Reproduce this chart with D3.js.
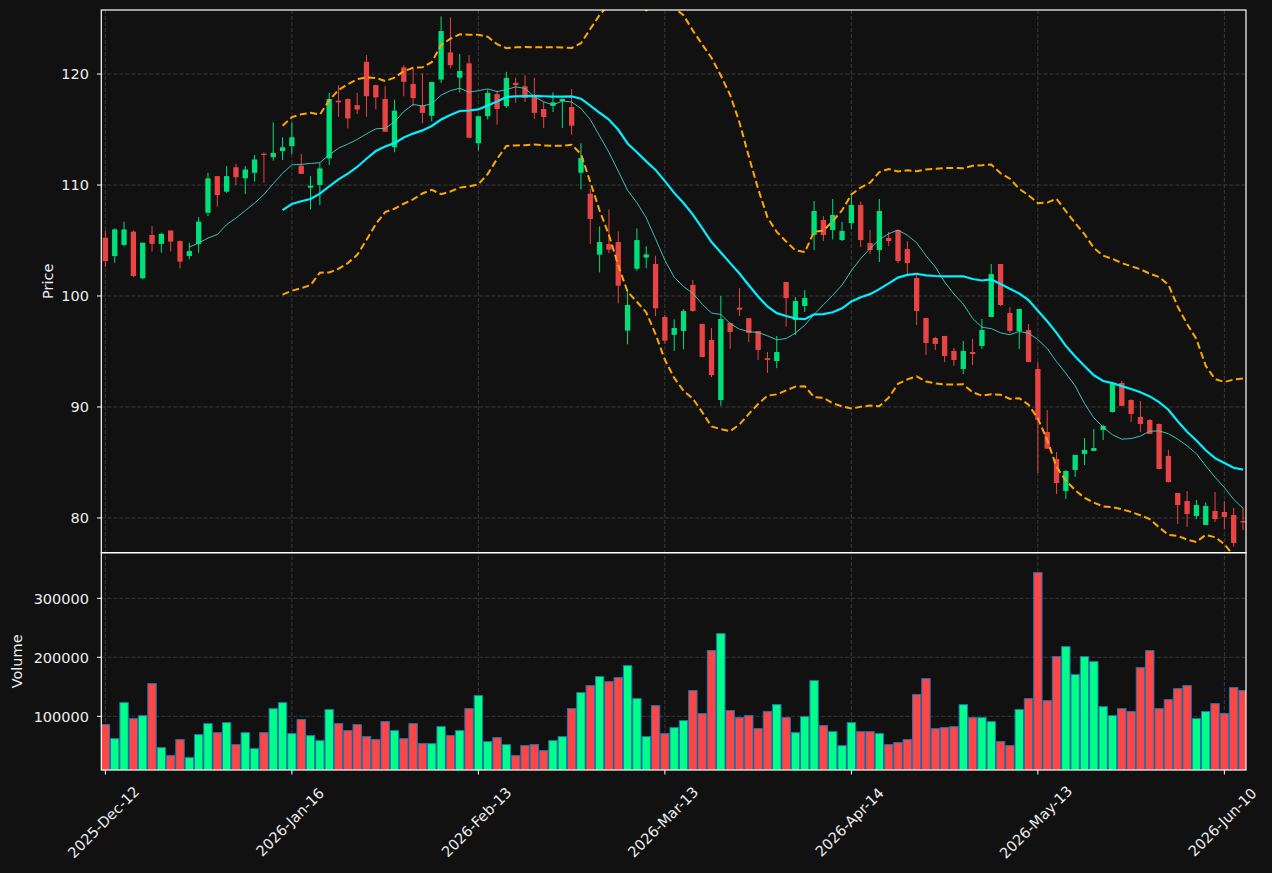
<!DOCTYPE html>
<html>
<head>
<meta charset="utf-8">
<script src="https://cdn.jsdelivr.net/npm/d3@7"></script>
<style>
  body { margin: 0; background: #111111; }
  text { font-family: "DejaVu Sans", sans-serif; }
</style>
</head>
<body>
<svg id="chart" width="1272" height="873"></svg>
<script>
// ---- data (one entry per trading session) ----
const opens = [105.25,103.6,104.6,105.8,101.6,105.5,104.7,105.9,104.95,103.6,104.7,107.5,110.8,109.4,111.6,110.6,111.1,112.82,112.5,113.06,
  113.5,111.74,109.76,110.0,112.4,117.6,117.75,117.2,121.1,119.0,117.75,113.4,120.6,119.1,117.14,116.24,119.5,121.95,119.67,120.96,
  113.76,116.2,118.2,117.1,119.2,118.9,118.0,116.85,117.14,117.57,117.03,111.11,109.22,103.72,104.68,104.86,96.88,102.46,103.46,102.88,
  98.11,96.5,96.85,101.0,97.48,96.04,90.63,97.57,98.95,98.0,96.85,94.4,94.14,101.26,97.84,99.1,105.5,106.85,105.95,105.04,
  106.58,108.2,104.77,104.14,105.23,105.95,104.23,101.62,98.02,96.22,96.4,95.05,93.42,94.95,95.5,98.11,102.88,98.47,96.85,96.94,
  93.42,87.75,85.32,82.43,84.32,85.77,86.04,87.93,89.55,92.16,90.63,89.1,88.83,88.47,85.59,82.25,81.53,80.18,79.37,80.63,
  80.54,80.27,79.72];
const highs = [105.9,106.1,106.7,105.9,104.8,106.3,105.7,105.9,105.0,104.8,107.1,111.1,110.8,111.7,111.9,111.7,112.7,112.95,115.65,114.3,
  115.65,112.8,110.8,112.0,118.3,119.0,117.8,118.3,121.7,119.05,118.9,117.7,120.8,120.5,120.1,119.3,125.2,125.1,121.8,121.7,
  116.2,118.6,118.5,120.2,119.67,119.9,119.67,117.48,118.35,117.8,118.65,113.76,109.64,106.28,107.8,105.83,100.6,106.1,104.48,103.63,
  98.3,97.9,98.8,101.44,97.5,97.12,100.0,97.6,100.72,98.0,96.85,94.95,96.4,101.26,99.9,100.54,108.56,107.2,108.74,106.67,
  109.2,108.5,105.95,108.74,105.77,105.95,104.95,101.9,98.02,96.3,96.4,95.32,95.95,96.13,97.93,102.88,102.88,99.0,98.83,97.48,
  94.05,89.73,85.95,84.3,85.7,87.2,88.0,88.4,92.25,92.34,90.7,90.54,88.9,88.5,86.13,82.25,82.43,81.62,81.4,82.34,
  81.53,80.9,80.9];
const lows = [102.6,103.0,104.5,101.7,101.5,104.0,103.9,104.0,102.5,103.3,103.9,107.2,108.05,109.3,110.0,109.2,110.3,110.2,112.2,112.25,
  112.77,111.0,107.8,108.2,111.8,116.15,115.1,116.4,116.15,116.8,114.8,112.95,118.0,117.1,115.56,115.74,119.2,120.5,118.35,114.2,
  113.1,115.9,115.44,116.94,117.4,117.48,115.95,115.14,116.58,115.14,114.53,109.6,104.7,102.13,103.85,99.34,95.65,102.28,102.5,98.2,
  95.7,95.05,95.2,98.6,94.5,92.7,90.1,95.23,98.2,95.86,94.23,93.06,93.5,97.24,96.49,98.56,104.14,104.95,105.1,104.95,
  106.04,104.4,103.78,103.06,104.5,102.97,101.98,97.39,94.68,95.14,94.05,93.7,92.97,93.78,95.23,98.1,99.1,96.67,95.23,94.05,
  84.03,86.24,82.16,81.71,83.7,84.77,86.04,87.03,89.5,90.1,88.65,87.75,87.57,84.4,83.2,79.46,79.19,79.9,79.37,79.64,
  79.0,77.4,78.9];
const closes = [103.15,106.0,106.0,101.8,104.8,104.7,105.6,104.9,103.1,104.05,106.7,110.6,109.1,110.8,110.7,111.4,112.3,112.7,112.9,113.4,
  114.3,111.0,109.94,111.5,117.75,117.45,116.0,116.8,118.0,117.9,114.8,116.7,119.3,117.84,116.5,119.28,123.87,120.8,120.27,114.26,
  116.2,118.3,116.85,119.64,119.0,117.84,116.5,116.13,117.45,117.75,115.35,112.43,106.94,104.86,104.17,100.93,99.19,105.04,103.75,98.89,
  95.98,97.12,98.65,98.65,94.5,92.88,97.93,96.76,98.77,96.67,95.14,94.23,94.95,99.82,99.55,99.82,107.66,105.5,107.3,105.86,
  108.2,105.04,104.14,107.66,104.95,103.15,102.97,98.65,95.77,95.68,94.6,94.23,95.05,94.77,96.94,101.98,99.19,96.85,98.83,94.05,
  88.83,86.24,83.15,84.23,85.68,86.13,86.3,88.29,92.07,90.1,89.37,88.47,87.57,84.41,83.24,81.17,80.36,81.17,81.08,79.9,
  80.09,77.75,79.6];
const volumes = [85900,62200,123200,96100,101200,155400,46900,33400,60500,30000,69000,87600,72300,89300,52000,72300,45200,72300,113000,123200,
  70700,94400,67300,58800,111400,87600,75800,85900,65600,60500,91000,75800,62200,87600,53700,53700,82500,67300,75800,113000,
  135100,57100,63900,52000,33400,50300,52000,41900,58800,65600,113000,140200,152000,167300,158800,165600,185900,130000,65600,118100,
  70700,80800,92700,143600,104600,211400,240200,109700,97800,101200,79100,108000,119800,97800,72300,99500,160500,84200,74000,50300,
  89300,74000,74000,70700,52000,55400,60500,136800,163900,79100,80800,82500,119800,97800,97800,91000,57100,50300,111400,130000,
  343600,126600,201200,218100,170700,201200,192700,116400,101200,113000,108000,182500,211400,113000,128300,146900,152000,96100,108000,121500,
  104600,148600,143600];

// date labels shown under every 20th session
const tickIndex = [0, 20, 40, 60, 80, 100, 120];
const tickLabels = ['2025-Dec-12', '2026-Jan-16', '2026-Feb-13', '2026-Mar-13', '2026-Apr-14', '2026-May-13', '2026-Jun-10'];
const priceTicks = [80, 90, 100, 110, 120];
const volumeTicks = [100000, 200000, 300000];

// ---- indicators ----
function sma(arr, w) {
  return arr.map((_, i) => i < w - 1 ? null : d3.mean(arr.slice(i - w + 1, i + 1)));
}
function rollStd(arr, w) {
  return arr.map((_, i) => i < w - 1 ? null : d3.deviation(arr.slice(i - w + 1, i + 1)));
}
const ma10 = sma(closes, 10);
const ma20 = sma(closes, 20);
const sd20 = rollStd(closes, 20);
const upper = ma20.map((m, i) => m === null ? null : m + 2 * sd20[i]);
const lower = ma20.map((m, i) => m === null ? null : m - 2 * sd20[i]);

// ---- layout ----
const BG = '#111111';
const TXT = '#eeeeee';
const GRID = '#3a3a3a';
const UP_C = '#00e07a', DN_C = '#e84444';
const UP_V = '#00ff88', DN_V = '#ff4646';

const left = 101.3, right = 1246;
const pTop = 10, pBot = 552.7, vTop = 552.7, vBot = 770;

const svg = d3.select('#chart');
svg.append('rect').attr('width', 1272).attr('height', 873).attr('fill', BG);

const x = d3.scaleLinear().domain([-0.44, 122.32]).range([left, right]);
const step = x(1) - x(0);
const yP = d3.scaleLinear().domain([76.87, 125.77]).range([pBot, pTop]);
const yV = d3.scaleLinear().domain([9000, 377300]).range([vBot, vTop]);

const defs = svg.append('defs');
defs.append('clipPath').attr('id', 'clipP').append('rect')
  .attr('x', left).attr('y', pTop).attr('width', right - left).attr('height', pBot - pTop);
defs.append('clipPath').attr('id', 'clipV').append('rect')
  .attr('x', left).attr('y', vTop).attr('width', right - left).attr('height', vBot - vTop);

// grid
const grid = svg.append('g').attr('stroke', GRID).attr('stroke-width', 1).attr('stroke-dasharray', '4,2');
tickIndex.forEach(t => {
  grid.append('line').attr('x1', x(t)).attr('x2', x(t)).attr('y1', pTop).attr('y2', vBot);
});
priceTicks.forEach(p => {
  grid.append('line').attr('x1', left).attr('x2', right).attr('y1', yP(p)).attr('y2', yP(p));
});
volumeTicks.forEach(v => {
  grid.append('line').attr('x1', left).attr('x2', right).attr('y1', yV(v)).attr('y2', yV(v));
});

// ---- candles ----
const idx = d3.range(closes.length);
const cg = svg.append('g').attr('clip-path', 'url(#clipP)');
const bodyW = step * 0.57;

cg.selectAll('line.wick').data(idx).join('line')
  .attr('class', 'wick')
  .attr('x1', i => x(i)).attr('x2', i => x(i))
  .attr('y1', i => yP(highs[i])).attr('y2', i => yP(lows[i]))
  .attr('stroke', i => closes[i] >= opens[i] ? UP_C : DN_C)
  .attr('stroke-width', 1);

cg.selectAll('rect.body').data(idx).join('rect')
  .attr('class', 'body')
  .attr('x', i => x(i) - bodyW / 2)
  .attr('width', bodyW)
  .attr('y', i => yP(Math.max(opens[i], closes[i])))
  .attr('height', i => Math.max(1, Math.abs(yP(opens[i]) - yP(closes[i]))))
  .attr('fill', i => closes[i] >= opens[i] ? UP_C : DN_C);

// ---- moving averages and bands ----
const line = d3.line()
  .defined(d => d.v !== null)
  .x(d => x(d.i))
  .y(d => yP(d.v));
const toPts = arr => arr.map((v, i) => ({ i, v }));

cg.append('path').attr('d', line(toPts(upper)))
  .attr('fill', 'none').attr('stroke', '#ffa500').attr('stroke-width', 2).attr('stroke-dasharray', '7,3.5');
cg.append('path').attr('d', line(toPts(lower)))
  .attr('fill', 'none').attr('stroke', '#ffa500').attr('stroke-width', 2).attr('stroke-dasharray', '7,3.5');
cg.append('path').attr('d', line(toPts(ma10)))
  .attr('fill', 'none').attr('stroke', '#40d0c8').attr('stroke-width', 1).attr('opacity', 0.9);
cg.append('path').attr('d', line(toPts(ma20)))
  .attr('fill', 'none').attr('stroke', '#00f0ff').attr('stroke-width', 2.2);

// ---- volume ----
const vg = svg.append('g').attr('clip-path', 'url(#clipV)');
const barW = step * 0.9;
vg.selectAll('rect').data(idx).join('rect')
  .attr('x', i => x(i) - barW / 2)
  .attr('width', barW)
  .attr('y', i => yV(volumes[i]))
  .attr('height', i => vBot - yV(volumes[i]) + 2)
  .attr('fill', i => closes[i] >= opens[i] ? UP_V : DN_V)
  .attr('stroke', '#1f77b4')
  .attr('stroke-width', 1);

// ---- frames ----
const frame = svg.append('g').attr('fill', 'none').attr('stroke', '#ffffff').attr('stroke-width', 1.2);
frame.append('rect').attr('x', left).attr('y', pTop).attr('width', right - left).attr('height', pBot - pTop);
frame.append('rect').attr('x', left).attr('y', vTop).attr('width', right - left).attr('height', vBot - vTop);

// ---- axes ----
const ax = svg.append('g').attr('fill', TXT).attr('font-size', '14.5px');

priceTicks.forEach(p => {
  ax.append('line').attr('x1', left - 4.3).attr('x2', left).attr('y1', yP(p)).attr('y2', yP(p)).attr('stroke', '#ffffff');
  ax.append('text').attr('x', 89).attr('y', yP(p)).attr('dy', '0.36em').attr('text-anchor', 'end').text(p);
});
volumeTicks.forEach(v => {
  ax.append('line').attr('x1', left - 4.3).attr('x2', left).attr('y1', yV(v)).attr('y2', yV(v)).attr('stroke', '#ffffff');
  ax.append('text').attr('x', 89).attr('y', yV(v)).attr('dy', '0.36em').attr('text-anchor', 'end').text(v);
});
tickIndex.forEach((t, k) => {
  ax.append('line').attr('x1', x(t)).attr('x2', x(t)).attr('y1', vBot).attr('y2', vBot + 4.5).attr('stroke', '#ffffff');
  ax.append('text')
    .attr('transform', `translate(${x(t) - 2},${822}) rotate(-45)`)
    .attr('text-anchor', 'middle').attr('dy', '0.36em')
    .text(tickLabels[k]);
});

ax.append('text').attr('transform', `translate(53,${(pTop + pBot) / 2}) rotate(-90)`)
  .attr('text-anchor', 'middle').text('Price');
ax.append('text').attr('transform', `translate(22,${(vTop + vBot) / 2}) rotate(-90)`)
  .attr('text-anchor', 'middle').text('Volume');
</script>
</body>
</html>
